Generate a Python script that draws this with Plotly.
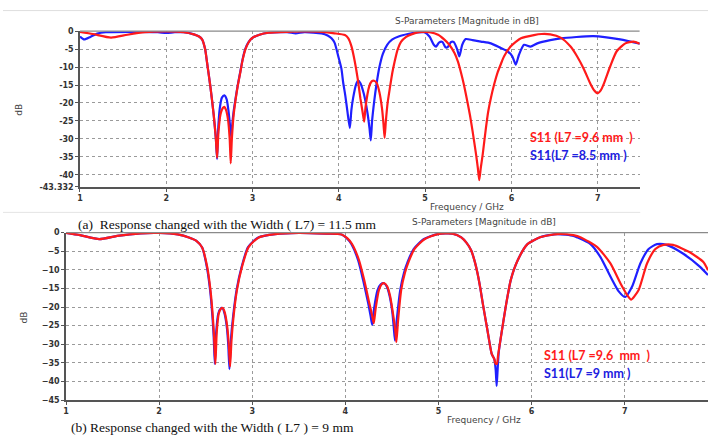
import plotly.graph_objects as go

W, H = 708, 444

# ---------------- data: panel (a) ----------------
a_red_f = [1.0, 1.15, 1.36, 1.55, 1.75, 2.0, 2.2, 2.32, 2.38, 2.415, 2.45, 2.473, 2.51, 2.55, 2.575, 2.589,
           2.605, 2.63, 2.655, 2.673, 2.69, 2.715, 2.735, 2.747, 2.76, 2.78, 2.80, 2.83, 2.858, 2.885, 2.915,
           2.95, 2.99, 3.08, 3.185, 3.4, 3.6, 3.8, 3.95, 4.07, 4.11, 4.147, 4.185, 4.22, 4.25, 4.275, 4.293,
           4.31, 4.35, 4.38, 4.408, 4.44, 4.47, 4.5, 4.518, 4.53, 4.545, 4.565, 4.59, 4.62, 4.646, 4.68, 4.72,
           4.78, 4.84, 4.9, 4.96, 5.05, 5.15, 5.22, 5.28, 5.34, 5.38, 5.415, 5.45, 5.49, 5.52, 5.55, 5.59, 5.61,
           5.627, 5.645, 5.667, 5.704, 5.73, 5.76, 5.8, 5.84, 5.88, 5.915, 5.99, 6.05, 6.11, 6.26, 6.35, 6.45,
           6.57, 6.685, 6.76, 6.84, 6.916, 6.96, 7.0, 7.035, 7.07, 7.146, 7.22, 7.32, 7.415, 7.49]
a_red_db = [-0.2, -0.8, -1.8, -1.0, -0.3, -0.1, -0.3, -0.9, -1.5, -2.3, -5.0, -8.8, -15.2, -23.4, -30.0, -35.3,
            -28.0, -23.0, -21.4, -21.1, -21.8, -24.5, -30.0, -36.8, -30.0, -23.5, -19.7, -15.0, -11.5, -8.0, -5.2,
            -3.3, -2.0, -1.0, -0.45, -0.2, -0.1, -0.2, -0.6, -1.1, -2.0, -4.3, -8.5, -13.5, -18.8, -22.5, -25.2,
            -21.0, -15.5, -14.0, -13.8, -14.5, -17.0, -21.5, -26.0, -29.7, -25.0, -20.0, -16.0, -11.5, -8.5, -5.2, -3.0,
            -1.6, -0.9, -0.4, -0.2, -0.3, -1.0, -2.3, -3.8, -6.1, -8.5, -11.5, -15.0, -19.7, -23.5, -27.9, -34.3, -38.0,
            -41.5, -38.0, -34.3, -27.0, -22.5, -18.8, -14.8, -11.5, -9.0, -7.0, -4.3, -3.0, -2.0, -1.1, -0.8, -0.9,
            -1.8, -4.3, -7.0, -10.6, -14.7, -16.5, -17.3, -16.5, -14.7, -9.7, -5.6, -3.4, -2.9, -3.5]

a_blue_f = [1.0, 1.05, 1.12, 1.2, 1.3, 1.6, 1.9, 2.0, 2.1, 2.2, 2.32, 2.38, 2.415, 2.45, 2.473, 2.51, 2.55, 2.575,
            2.589, 2.6, 2.62, 2.645, 2.673, 2.7, 2.72, 2.74, 2.754, 2.765, 2.78, 2.80, 2.83, 2.858, 2.885, 2.915,
            2.95, 2.99, 3.08, 3.185, 3.4, 3.5, 3.6, 3.8, 3.87, 3.915, 3.95, 3.993, 4.03, 4.05, 4.075, 4.1, 4.127,
            4.145, 4.166, 4.2, 4.224, 4.25, 4.29, 4.33, 4.355, 4.37, 4.385, 4.41, 4.435, 4.47, 4.51, 4.56, 4.62,
            4.7, 4.8, 4.9, 4.99, 5.05, 5.1, 5.127, 5.16, 5.2, 5.235, 5.26, 5.3, 5.33, 5.37, 5.396, 5.43, 5.47,
            5.55, 5.646, 5.762, 5.877, 5.954, 6.01, 6.05, 6.088, 6.146, 6.22, 6.3, 6.45, 6.57, 6.95, 7.26, 7.49]
a_blue_db = [-1.5, -2.3, -1.6, -0.7, -0.3, -0.2, -0.3, -0.5, -0.3, -0.3, -0.9, -1.5, -2.3, -5.0, -8.8, -15.2, -23.4, -30.0,
             -35.6, -28.0, -21.5, -18.5, -17.9, -19.0, -22.0, -26.5, -29.7, -26.0, -22.5, -19.2, -14.8, -11.3, -7.8, -5.0,
             -3.2, -2.0, -1.0, -0.45, -0.3, -0.6, -0.3, -0.6, -1.2, -2.0, -3.2, -7.0, -10.5, -14.3, -18.0, -22.5, -27.0,
             -22.0, -18.5, -14.8, -13.8, -14.5, -17.5, -22.5, -27.0, -30.4, -25.0, -19.5, -15.0, -10.0, -6.3, -3.8, -2.3,
             -1.4, -0.8, -0.4, -0.3, -1.5, -3.8, -4.3, -3.2, -3.0, -4.5, -4.5, -3.0, -3.0, -5.0, -7.0, -3.8, -2.2,
             -2.5, -2.9, -3.4, -4.7, -5.6, -7.0, -9.3, -6.5, -3.8, -4.3, -3.4, -2.5, -2.0, -1.4, -2.3, -3.5]

# ---------------- data: panel (b) ----------------
b_red_f = [1.0, 1.15, 1.357, 1.55, 1.8, 2.0, 2.2, 2.32, 2.40, 2.462, 2.516, 2.551, 2.576, 2.59, 2.604, 2.618, 2.64,
           2.665, 2.685, 2.705, 2.73, 2.748, 2.762, 2.777, 2.80, 2.836, 2.89, 2.96, 3.07, 3.246, 3.5, 3.8, 3.96,
           4.02, 4.07, 4.145, 4.2, 4.255, 4.285, 4.305, 4.325, 4.36, 4.39, 4.42, 4.45, 4.48, 4.51, 4.535, 4.548,
           4.565, 4.60, 4.64, 4.68, 4.743, 4.85, 4.994, 5.15, 5.245, 5.30, 5.352, 5.39, 5.42, 5.45, 5.475, 5.50,
           5.528, 5.571, 5.6, 5.612, 5.628, 5.64, 5.668, 5.724, 5.777, 5.85, 5.956, 6.098, 6.277, 6.45, 6.53, 6.705,
           6.847, 6.954, 7.025, 7.07, 7.15, 7.24, 7.33, 7.417, 7.52, 7.70, 7.845, 7.895]
b_red_db = [-0.1, -0.7, -1.76, -0.9, -0.2, -0.1, -0.5, -1.3, -2.2, -4.0, -9.2, -15.4, -22.4, -28.0, -35.3, -27.0, -21.8,
            -20.4, -20.3, -21.5, -25.0, -30.0, -36.0, -29.0, -22.4, -15.4, -9.2, -3.9, -1.3, -0.4, -0.1, -0.3, -0.5,
            -1.5, -3.0, -7.3, -12.5, -18.7, -22.0, -24.4, -20.5, -15.5, -13.9, -13.6, -14.5, -17.0, -21.5, -26.0, -29.4,
            -24.0, -15.4, -10.8, -7.8, -4.4, -1.8, -0.4, -0.3, -1.3, -2.7, -4.8, -7.8, -11.0, -15.0, -18.9, -22.5,
            -26.5, -32.5, -34.0, -35.2, -35.2, -33.0, -28.5, -19.7, -12.7, -7.5, -3.1, -1.2, -0.4, -0.7, -1.3, -3.9,
            -8.3, -13.6, -16.7, -18.0, -15.4, -8.3, -4.4, -3.3, -3.3, -5.3, -7.9, -10.1]

b_blue_f = [1.0, 1.15, 1.357, 1.55, 1.8, 2.0, 2.2, 2.32, 2.40, 2.462, 2.512, 2.547, 2.572, 2.586, 2.598, 2.612, 2.635,
            2.66, 2.68, 2.70, 2.725, 2.742, 2.755, 2.77, 2.795, 2.832, 2.886, 2.955, 3.065, 3.246, 3.5, 3.8, 3.96,
            4.015, 4.066, 4.138, 4.19, 4.245, 4.272, 4.288, 4.308, 4.345, 4.38, 4.415, 4.445, 4.475, 4.505, 4.52, 4.533,
            4.55, 4.59, 4.63, 4.67, 4.735, 4.84, 4.99, 5.15, 5.245, 5.30, 5.352, 5.39, 5.42, 5.45, 5.475, 5.50,
            5.528, 5.571, 5.6, 5.615, 5.625, 5.635, 5.648, 5.668, 5.724, 5.777, 5.85, 5.956, 6.098, 6.277, 6.45, 6.491,
            6.633, 6.74, 6.847, 6.936, 7.007, 7.08, 7.168, 7.257, 7.347, 7.45, 7.63, 7.81, 7.895]
b_blue_db = [-0.1, -0.7, -1.76, -0.9, -0.2, -0.1, -0.5, -1.3, -2.2, -4.0, -9.2, -15.4, -22.4, -28.0, -35.3, -27.0, -21.8,
             -20.4, -20.3, -21.5, -25.0, -30.0, -36.7, -29.0, -22.4, -15.4, -9.2, -3.9, -1.3, -0.4, -0.1, -0.3, -0.5,
             -1.5, -3.1, -7.5, -12.7, -18.9, -22.5, -24.8, -20.5, -15.5, -13.9, -13.6, -14.5, -17.0, -21.5, -25.5, -29.0,
             -24.0, -15.4, -10.8, -7.8, -4.4, -1.8, -0.4, -0.3, -1.3, -2.7, -4.8, -7.8, -11.0, -15.0, -18.9, -22.5,
             -26.5, -32.5, -34.0, -37.0, -41.2, -37.0, -32.0, -28.5, -19.7, -12.7, -7.5, -3.1, -1.2, -0.4, -0.9, -1.3,
             -3.1, -6.6, -11.8, -15.8, -17.3, -14.5, -8.3, -4.4, -3.1, -3.3, -5.7, -9.2, -11.4]

a_xticks = [1, 2, 3, 4, 5, 6, 7]
a_yticks = [0, -5, -10, -15, -20, -25, -30, -35, -40, -43.332]
a_yticktext = ["0", "-5", "-10", "-15", "-20", "-25", "-30", "-35", "-40", "-43.332"]
b_xticks = [1, 2, 3, 4, 5, 6, 7]
b_yticks = [0, -5, -10, -15, -20, -25, -30, -35, -40, -45]

RED = "#ff1a1a"
BLUE = "#1f1fff"

fig = go.Figure()
line_kw = dict(shape="spline", smoothing=0.6, width=2.2)
fig.add_trace(go.Scatter(x=a_blue_f, y=a_blue_db, mode="lines", line=dict(color=BLUE, **line_kw),
                         xaxis="x", yaxis="y", showlegend=False))
fig.add_trace(go.Scatter(x=a_red_f, y=a_red_db, mode="lines", line=dict(color=RED, **line_kw),
                         xaxis="x", yaxis="y", showlegend=False))
fig.add_trace(go.Scatter(x=b_blue_f, y=b_blue_db, mode="lines", line=dict(color=BLUE, **line_kw),
                         xaxis="x2", yaxis="y2", showlegend=False))
fig.add_trace(go.Scatter(x=b_red_f, y=b_red_db, mode="lines", line=dict(color=RED, **line_kw),
                         xaxis="x2", yaxis="y2", showlegend=False))

def px(x):
    return x / W

def py(y):
    return 1 - y / H

tick_font = dict(family="DejaVu Sans", size=8, color="#333333", weight="bold")
ax_common = dict(showgrid=True, gridcolor="#9a9a9a", griddash="dot", gridwidth=1,
                 showline=True, linecolor="#555555", linewidth=1.5, ticks="outside", ticklen=3,
                 tickcolor="#555555", tickfont=tick_font, zeroline=False, fixedrange=True)

fig.update_layout(
    width=W, height=H, margin=dict(l=0, r=0, t=0, b=0),
    paper_bgcolor="white", plot_bgcolor="white",
    xaxis=dict(domain=[px(77.3), px(639.3)], range=[1, 7.485], tickvals=a_xticks, anchor="y", **ax_common),
    yaxis=dict(domain=[py(186.6), py(27.7)], range=[-43.332, 0], tickvals=a_yticks, ticktext=a_yticktext,
               anchor="x", **ax_common),
    xaxis2=dict(domain=[px(63.3), 1.0], range=[1, 7.895], tickvals=b_xticks, anchor="y2", **ax_common),
    yaxis2=dict(domain=[py(404.3), py(233.3)], range=[-45, 0], tickvals=b_yticks, anchor="x2", **ax_common),
)

# panel frames (top borders)
fig.add_shape(type="line", xref="x domain", yref="y domain", x0=0, x1=1, y0=1, y1=1,
              line=dict(color="#8a8a8a", width=1.2))
fig.add_shape(type="line", xref="x2 domain", yref="y2 domain", x0=0, x1=1, y0=1, y1=1,
              line=dict(color="#8a8a8a", width=1.2))
# light separators of the original figure
fig.add_shape(type="line", xref="paper", yref="paper", x0=0, x1=1, y0=py(6.7), y1=py(6.7),
              line=dict(color="#dedede", width=1))
fig.add_shape(type="line", xref="paper", yref="paper", x0=0, x1=px(640), y0=py(212.7), y1=py(212.7),
              line=dict(color="#e4e4e4", width=1))

small = dict(family="DejaVu Sans", size=9, color="#444444")
ann = []
ann.append(dict(text="S-Parameters [Magnitude in dB]", x=px(466), y=py(17), font=small))
ann.append(dict(text="Frequency / GHz", x=px(466), y=py(207), font=small))
ann.append(dict(text="dB", x=px(16), y=py(108), font=small, textangle=-90))
ann.append(dict(text="S-Parameters [Magnitude in dB]", x=px(483), y=py(222.7), font=small))
ann.append(dict(text="Frequency / GHz", x=px(483), y=py(425), font=small))
ann.append(dict(text="dB", x=px(21), y=py(320), font=small, textangle=-90))

serif = dict(family="Liberation Serif", size=13.5, color="#111111")
ann.append(dict(text="(a)  Response changed with the Width ( L7) = 11.5 mm", x=px(225.5), y=py(225), font=serif))
ann.append(dict(text="(b) Response changed with the Width ( L7 ) = 9 mm", x=px(210), y=py(432.7), font=serif))

leg_red = dict(family="Lato", size=12.5, color="#ff1a1a", weight="bold")
leg_blue = dict(family="Lato", size=12.5, color="#2020e0", weight="bold")
ann.append(dict(text="S11 (L7 =9.6 mm  )", x=px(527), y=py(136.7), font=leg_red, xanchor="left"))
ann.append(dict(text="S11(L7 =8.5 mm )", x=px(527), y=py(155), font=leg_blue, xanchor="left"))
ann.append(dict(text="S11 (L7 =9.6  mm  )", x=px(541.7), y=py(358.3), font=leg_red, xanchor="left"))
ann.append(dict(text="S11(L7 =9 mm )", x=px(541.7), y=py(376.7), font=leg_blue, xanchor="left"))

for a in ann:
    a.setdefault("xanchor", "center")
    a.update(xref="paper", yref="paper", yanchor="middle", showarrow=False)
    fig.add_annotation(**a)

fig.write_html("out.html")
